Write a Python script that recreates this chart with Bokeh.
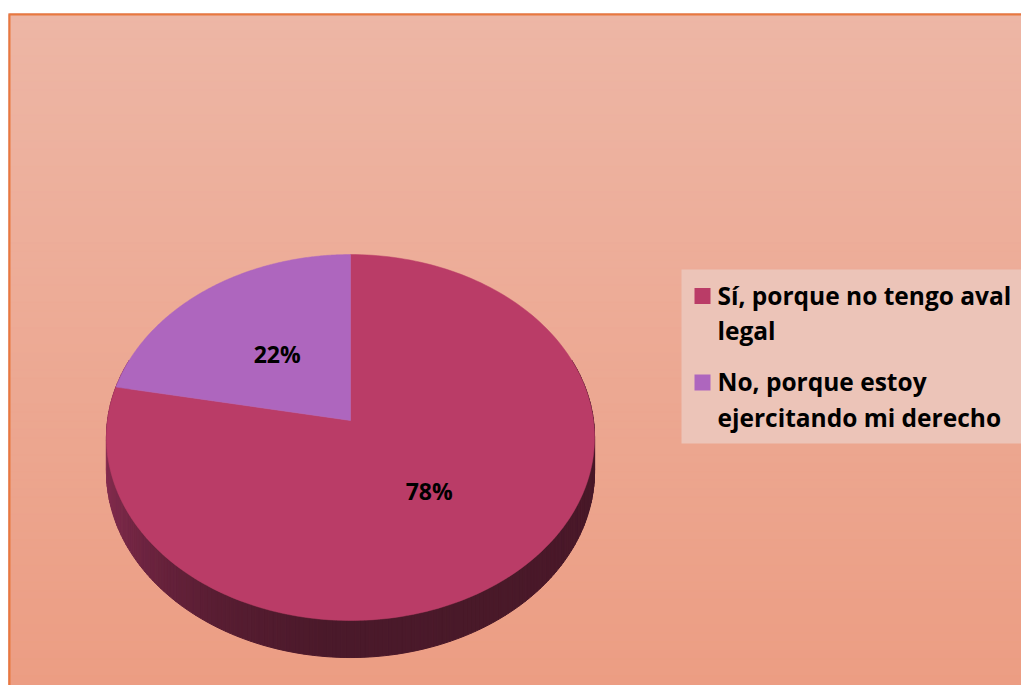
import textwrap
import numpy as np
from bokeh.plotting import figure
from bokeh.models import Range1d
from bokeh.core.properties import value
from bokeh.embed import file_html
from bokeh.resources import INLINE

# ---------------- data ----------------
categories = ["Sí, porque no tengo aval legal",
              "No, porque estoy ejercitando mi derecho"]
values = [78, 22]
slice_colors = ["#BA3C67", "#AE66BE"]

# ---------------- geometry / style ----------------
CX, CY = 350.0, 420.0      # pie vertex (screen px)
F, G = 243.0, 181.4        # horizontal / vertical radii
S = 0.093                  # perspective factor
H = 33.6                   # side thickness
FONT = value("Open Sans")


def proj(theta_deg, r=1.0, h=0.0):
    t = np.radians(theta_deg)
    u = r * np.sin(t)
    w = r * np.cos(t)
    d = 1.0 + S * w
    return CX + F * u / d, CY - (G * w - H * h) / d


def lerp_color(stops, t):
    for (t0, c0), (t1, c1) in zip(stops[:-1], stops[1:]):
        if t0 <= t <= t1:
            f = (t - t0) / (t1 - t0) if t1 != t0 else 0
            c = [round(a + (b - a) * f) for a, b in zip(c0, c1)]
            return "#%02x%02x%02x" % tuple(c)
    c = stops[0][1] if t < stops[0][0] else stops[-1][1]
    return "#%02x%02x%02x" % tuple(c)


p = figure(width=1021, height=685, output_backend="svg", toolbar_location=None,
           x_range=Range1d(0, 1021), y_range=Range1d(685, 0), min_border=0)
p.axis.visible = False
p.grid.visible = False
p.outline_line_color = None
p.background_fill_color = "white"
p.border_fill_color = "white"

# background gradient
n_b = 80
y_edges = np.linspace(13, 692, n_b + 1)
top_c, bot_c = (237, 182, 165), (236, 157, 131)
bcols = []
for i in range(n_b):
    f = i / (n_b - 1)
    bcols.append("#%02x%02x%02x" % tuple(round(a + (b - a) * f) for a, b in zip(top_c, bot_c)))
p.quad(left=8, right=1030, top=y_edges[:-1], bottom=y_edges[1:] + 1.5,
       fill_color=bcols, line_color=bcols, line_width=1)
# chart border
p.quad(left=9, right=1045, top=14, bottom=710, fill_color=None,
       line_color="#E8783F", line_width=2)

# pie side (front)
side_stops = [(90, (72, 24, 40)), (185, (74, 25, 42)), (210, (88, 29, 50)),
              (240, (115, 38, 68)), (270, (140, 48, 84)), (290, (145, 50, 88))]
th = np.arange(70, 291, 1.0)
xs_side, ys_side, c_side = [], [], []
for a0, a1 in zip(th[:-1], th[1:]):
    x0t, y0t = proj(a0)
    x1t, y1t = proj(a1)
    x0b, y0b = proj(a0, h=1)
    x1b, y1b = proj(a1, h=1)
    xs_side.append([x0t, x1t, x1b, x0b])
    ys_side.append([y0t, y1t, y1b, y0b])
    c_side.append(lerp_color(side_stops, (a0 + a1) / 2))
p.patches(xs_side, ys_side, fill_color=c_side, line_color=c_side, line_width=1)

# pie top face
total = sum(values)
start = 0.0
label_pos = []
for v, col in zip(values, slice_colors):
    a0 = start / total * 360
    a1 = (start + v) / total * 360
    arc = np.linspace(a0, a1, 200)
    ax, ay = proj(arc)
    p.patch(np.concatenate([[CX], ax]), np.concatenate([[CY], ay]),
            fill_color=col, line_color=col, line_width=0.5)
    lx, ly = proj((a0 + a1) / 2, r=0.49)
    label_pos.append((float(lx), float(ly)))
    start += v

for (lx, ly), v in zip(label_pos, values):
    p.text(x=[lx], y=[ly], text=[f"{round(v / total * 100)}%"],
           text_font=FONT, text_font_style="bold", text_font_size="23px",
           text_color="black", text_align="center", text_baseline="middle")

# legend
p.quad(left=681, right=1024, top=269, bottom=443, fill_color="#ECC4B8",
       line_color=None)
entry_y = [294.5, 381]      # vertical middle of first line of each entry
line_gap = 35.5
for cat, col, ym in zip(categories, slice_colors, entry_y):
    p.rect(x=[702], y=[ym + 1], width=16, height=16,
           fill_color=col, line_color=None)
    for k, line in enumerate(textwrap.wrap(cat, 24)):
        p.text(x=[717], y=[ym + k * line_gap], text=[line],
               text_font=FONT, text_font_style="bold", text_font_size="24.5px",
               text_color="black", text_align="left", text_baseline="middle")

open("out.html", "w").write(file_html(p, INLINE))
